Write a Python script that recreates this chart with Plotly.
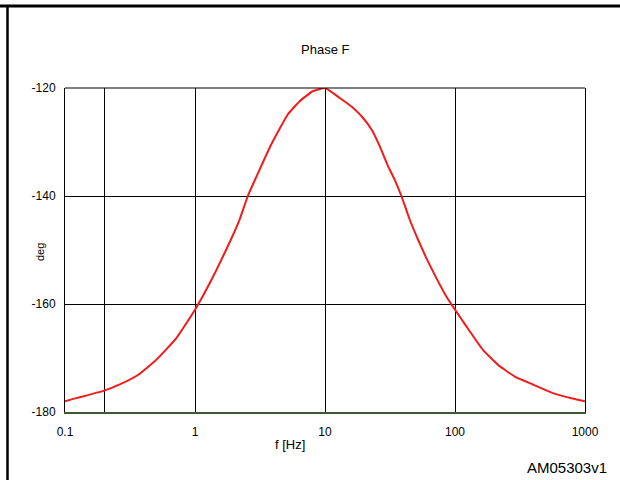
import plotly.graph_objects as go

# Data
freq_hz = [0.1, 0.2, 0.264, 0.366, 0.505, 0.719, 1.0, 1.30, 1.74, 2.20, 2.55, 3.14, 3.85,
           5.17, 6.36, 8.04, 10.0, 13.0, 16.5, 19.7, 22.8, 26.4, 30.6, 34.4, 38.7, 44.9,
           52.0, 60.2, 71.9, 85.8, 100.0, 122, 164, 220, 296, 397, 565, 803, 1000]
phase_deg = [-178.0, -176.05, -174.9, -173.1, -170.3, -166.3, -161.05, -156.1, -149.9, -144.4,
             -140.0, -135.1, -130.5, -124.9, -122.5, -120.6, -120.0, -121.85, -123.7, -125.6,
             -127.7, -130.8, -134.5, -137.0, -140.0, -144.4, -148.1, -151.5, -155.2, -158.6,
             -161.05, -164.1, -168.5, -171.5, -173.6, -174.9, -176.5, -177.5, -178.0]

x_tick_vals = [0.1, 1, 10, 100, 1000]
x_tick_text = ["0.1", "1", "10", "100", "1000"]
x_minor_grid = [0.2]
y_tick_vals = [-180, -160, -140, -120]
y_tick_text = ["-180", "-160", "-140", "-120"]

FONT = "Liberation Sans, Arial, sans-serif"

fig = go.Figure()
fig.add_trace(go.Scatter(x=freq_hz, y=phase_deg, mode="lines",
                         line=dict(color="#f01c1c", width=2, shape="spline", smoothing=0.4),
                         hoverinfo="skip", showlegend=False))

W, H = 620, 480
L, R, T, B = 65, 35, 88, 68
pw, ph = W - L - R, H - T - B

def px_x(v):
    return (v - L) / pw

def px_y(v):
    return (H - B - v) / ph

fig.update_layout(
    width=W, height=H,
    margin=dict(l=L, r=R, t=T, b=B),
    paper_bgcolor="white", plot_bgcolor="white",
    font=dict(family=FONT, size=12, color="black"),
    showlegend=False,
    xaxis=dict(type="log", range=[-1, 3], tickvals=x_tick_vals, ticktext=x_tick_text,
               showgrid=True, gridcolor="black", gridwidth=1,
               showline=True, linecolor="#3d5a35", linewidth=2, mirror=False,
               ticks="", tickfont=dict(size=12), zeroline=False, ticklabelstandoff=8,
               minor=dict(tickvals=x_minor_grid, showgrid=True, gridcolor="black",
                          gridwidth=1, ticks="")),
    yaxis=dict(range=[-180, -120], tickvals=y_tick_vals, ticktext=y_tick_text,
               showgrid=True, gridcolor="black", gridwidth=1,
               showline=True, linecolor="black", linewidth=1, mirror=True,
               ticks="", tickfont=dict(size=12), zeroline=False, ticklabelstandoff=6),
    shapes=[
        dict(type="line", xref="paper", yref="paper", x0=0, x1=1, y0=1, y1=1,
             line=dict(color="black", width=1)),
        dict(type="line", xref="paper", yref="paper", x0=px_x(0), x1=px_x(W),
             y0=px_y(6), y1=px_y(6), line=dict(color="black", width=3)),
        dict(type="line", xref="paper", yref="paper", x0=px_x(7.5), x1=px_x(7.5),
             y0=px_y(5), y1=px_y(H), line=dict(color="black", width=2.5)),
    ],
    annotations=[
        dict(text="Phase F", xref="paper", yref="paper", x=px_x(325), y=px_y(50),
             showarrow=False, font=dict(size=13), xanchor="center", yanchor="middle"),
        dict(text="f [Hz]", xref="paper", yref="paper", x=px_x(290), y=px_y(444),
             showarrow=False, font=dict(size=13), xanchor="center", yanchor="middle"),
        dict(text="deg", xref="paper", yref="paper", x=px_x(40), y=px_y(252),
             showarrow=False, font=dict(size=11), textangle=-90,
             xanchor="center", yanchor="middle"),
        dict(text="AM05303v1", xref="paper", yref="paper", x=px_x(609), y=px_y(467),
             showarrow=False, font=dict(size=15), xanchor="right", yanchor="middle"),
    ],
)

fig.write_html("out.html", config={"displayModeBar": False},
               post_script="document.body.style.margin='0';")
